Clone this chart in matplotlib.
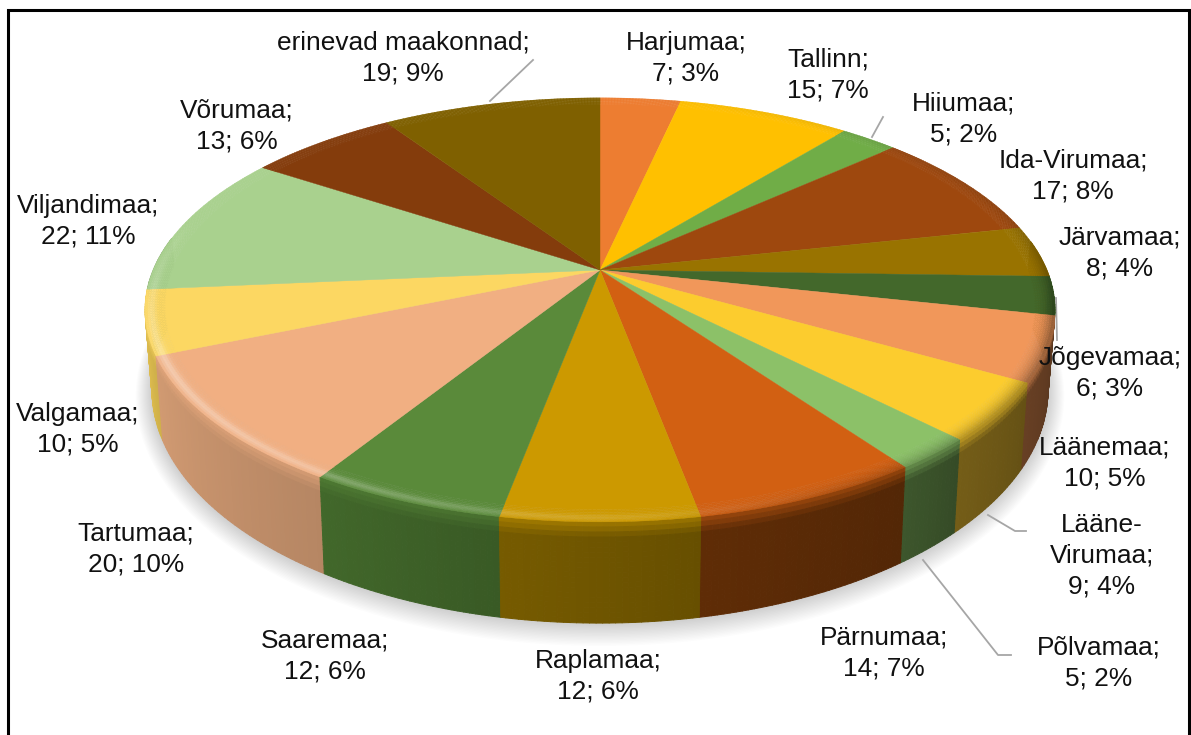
import numpy as np
import matplotlib
matplotlib.use("Agg")
import matplotlib.pyplot as plt
from matplotlib.collections import PolyCollection
from matplotlib.colors import to_rgb

plt.rcParams['font.family'] = ['Liberation Sans', 'DejaVu Sans']

names = ["Harjumaa", "Tallinn", "Hiiumaa", "Ida-Virumaa", "Järvamaa", "Jõgevamaa",
         "Läänemaa", "Lääne-\nVirumaa", "Põlvamaa", "Pärnumaa", "Raplamaa", "Saaremaa",
         "Tartumaa", "Valgamaa", "Viljandimaa", "Võrumaa", "erinevad maakonnad"]
values = [7, 15, 5, 17, 8, 6, 10, 9, 5, 14, 12, 12, 20, 10, 22, 13, 19]

top_colors = ["#ED7D31", "#FFC000", "#70AD47", "#9E480E", "#997300", "#43682B",
              "#F1975A", "#FCCC2E", "#8CC168", "#D26012", "#CC9900", "#5A8A3A",
              "#F1AF82", "#FCD762", "#A9D18E", "#843C0C", "#7F6000"]
side_colors = ["#A85822", "#B38600", "#4E7A32", "#6E320A", "#6B5100", "#2F4A1E",
               "#623C22", "#6E5816", "#3A522A", "#5A2A06", "#705600", "#3E6228",
               "#C6926C", "#E2C050", "#7C9C68", "#5C2A08", "#594300"]

label_xy = [(686, 58), (828, 75), (964, 119), (1073, 176), (1120, 253), (1110, 373),
            (1105, 463), (1102, 556), (1099, 663), (884, 653), (598, 676), (325, 656),
            (136, 549), (78, 429), (88, 221), (237, 126), (403, 58)]

leaders = [[(533, 60), (490, 101)],
           [(883, 117), (872, 137)],
           [(1056, 298), (1057, 340)],
           [(988, 515), (1015, 531), (1026, 531)],
           [(923, 560), (998, 655), (1011, 655)]]

total = sum(values)
edges = np.cumsum([0] + values) / total * 2 * np.pi

P = 0.188


def top_pt(th, r=1.0):
    u, v = r * np.sin(th), r * np.cos(th)
    w = 1 + P * v
    return 600 + 446.8 * u / w, 270 - 204.5 * v / w


def bottom_pt(th, grow=0.0, dy=0.0):
    u, v = np.sin(th), np.cos(th)
    w = 1 + P * v
    return 600 + (440 + grow) * u / w, 346 + dy - (225 + grow) * v / w


def mix(c, other, t):
    return tuple(np.array(c) * (1 - t) + np.array(other) * t)


fig = plt.figure(figsize=(11.91, 7.35), dpi=100)
ax = fig.add_axes([0, 0, 1, 1])
ax.set_xlim(0, 1191)
ax.set_ylim(735, 0)
ax.axis("off")

# soft shadow below the disc
full = np.linspace(0, 2 * np.pi, 361)
for g in range(1, 17):
    x, y = bottom_pt(full, grow=g, dy=g * 0.2)
    ax.fill(x, y, color="black", alpha=0.012, lw=0, zorder=1)

for pts in leaders:
    ax.plot(*zip(*pts), color="#A6A6A6", lw=1.3, zorder=2)

# side wall, back to front
side = []
n_v = 20
blend = {0: 0.45, 1: 0.3, 2: 0.12}
for i, val in enumerate(values):
    top_c = to_rgb(top_colors[i])
    side_c = to_rgb(side_colors[i])
    ths = np.arange(edges[i], edges[i + 1] + 0.006, 0.012)
    ths[-1] = edges[i + 1]
    for a, b in zip(ths[:-1], ths[1:]):
        if np.cos(a) > 0.15:
            continue
        xa0, ya0 = top_pt(a)
        xb0, yb0 = top_pt(b)
        xa1, ya1 = bottom_pt(a)
        xb1, yb1 = bottom_pt(b)
        frac = (a - edges[i]) / (edges[i + 1] - edges[i])
        shade = 0.92 + 0.14 * frac
        for k in range(n_v):
            t0, t1 = k / n_v, (k + 1) / n_v
            quad = [(xa0 + (xa1 - xa0) * t0, ya0 + (ya1 - ya0) * t0),
                    (xb0 + (xb1 - xb0) * t0, yb0 + (yb1 - yb0) * t0),
                    (xb0 + (xb1 - xb0) * t1, yb0 + (yb1 - yb0) * t1),
                    (xa0 + (xa1 - xa0) * t1, ya0 + (ya1 - ya0) * t1)]
            c = np.array(side_c) * shade
            if k in blend:
                c = np.array(mix(c, top_c, blend[k]))
            side.append((-np.cos(a), quad, tuple(np.clip(c, 0, 1))))
side.sort(key=lambda q: q[0])
quads = [q[1] for q in side]
cols = [q[2] for q in side]
ax.add_collection(PolyCollection(quads, facecolors=cols, edgecolors=cols, linewidths=0.7, zorder=3))

# top face
rim = 0.955
for i, val in enumerate(values):
    ths = np.linspace(edges[i], edges[i + 1], 60)
    x, y = top_pt(ths, rim + 0.002)
    ax.fill(np.r_[600, x], np.r_[270, y], color=top_colors[i], lw=0.3, zorder=4)

# bevel along the rim: light at front left, dark towards the right
quads, cols = [], []
n_r = 9
for i, val in enumerate(values):
    c0 = to_rgb(top_colors[i])
    ths = np.arange(edges[i], edges[i + 1] + 0.004, 0.008)
    ths[-1] = edges[i + 1]
    for a, b in zip(ths[:-1], ths[1:]):
        s, cs = np.sin(a), np.cos(a)
        front = np.clip(0.25 - cs, 0, 1)
        light = np.clip(0.3 - 0.6 * s, 0, 1) * min(front * 1.5, 1)
        dark = np.clip(1.1 * s - 0.1, 0, 1) * min(front * 1.5 + 0.3, 1)
        for k in range(n_r):
            r0 = rim + (1 - rim) * k / n_r
            r1 = rim + (1 - rim) * (k + 1) / n_r
            t = (k + 0.5) / n_r
            xa0, ya0 = top_pt(a, r0)
            xb0, yb0 = top_pt(b, r0)
            xa1, ya1 = top_pt(b, r1)
            xb1, yb1 = top_pt(a, r1)
            quads.append([(xa0, ya0), (xb0, yb0), (xa1, ya1), (xb1, yb1)])
            c = mix(c0, (1, 1, 1), 0.4 * light * np.exp(-((t - 0.7) / 0.22) ** 2))
            c = mix(c, (0, 0, 0), 0.4 * dark * t ** 2)
            cols.append(c)
ax.add_collection(PolyCollection(quads, facecolors=cols, edgecolors=cols, linewidths=0.3, zorder=5))

# labels
for name, val, (lx, ly) in zip(names, values, label_xy):
    pct = round(val / total * 100)
    ax.text(lx, ly, f"{name};\n{val}; {pct}%", ha="center", va="center", multialignment="center",
            fontsize=18.9, color="#111111", linespacing=1.36, zorder=7)

# picture frame
ax.plot([8, 8, 1189, 1189], [735, 9.5, 9.5, 735], color="black", lw=2.2, zorder=8, solid_joinstyle="miter")

fig.savefig("out.png", dpi=100)
